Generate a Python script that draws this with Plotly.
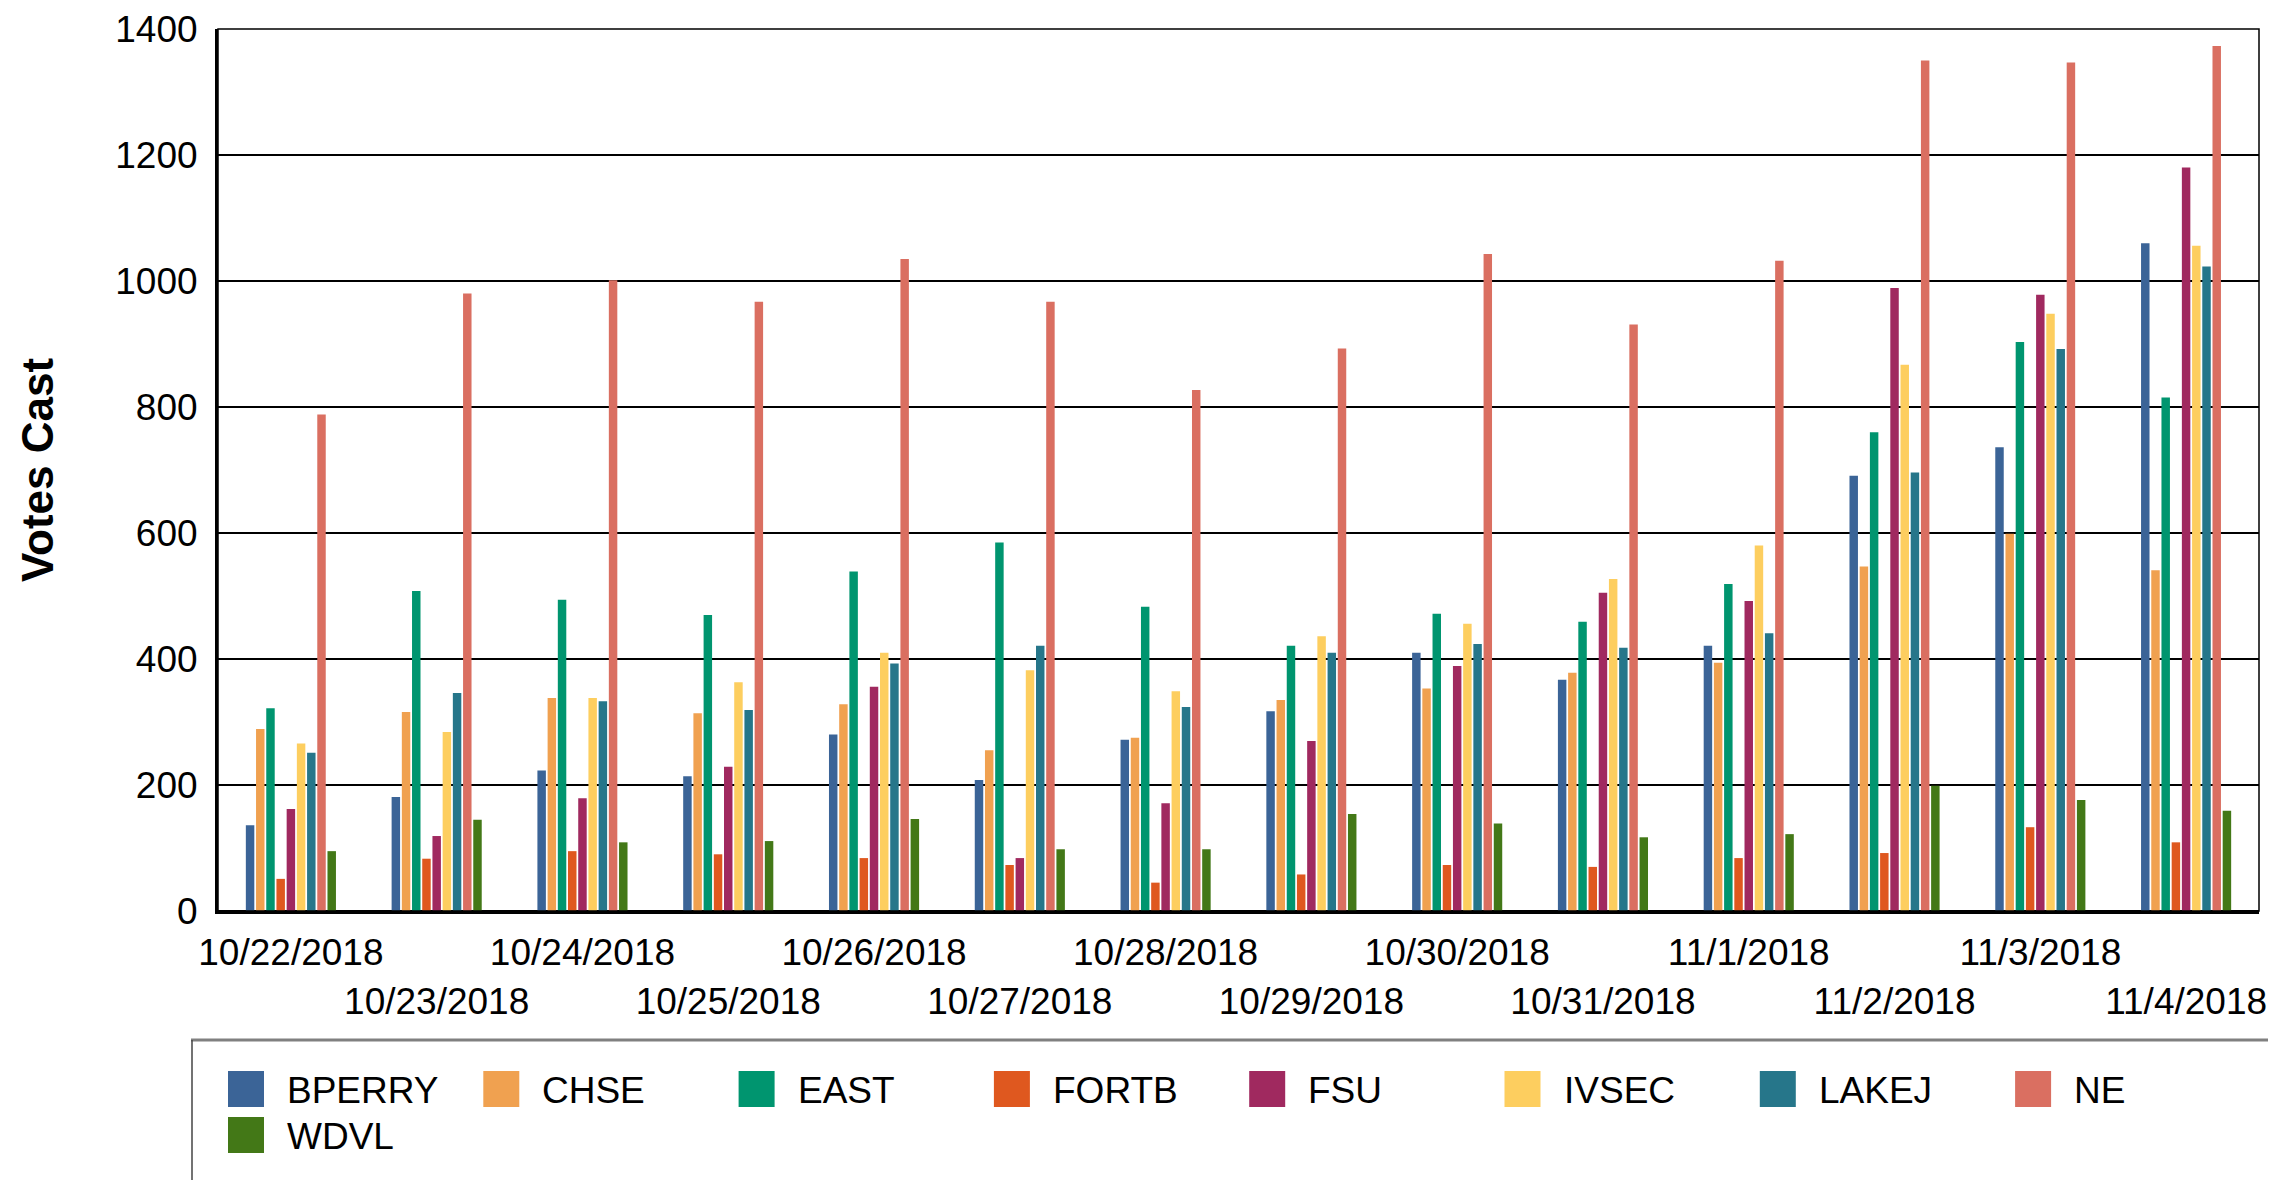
import plotly.graph_objects as go

dates = ["10/22/2018", "10/23/2018", "10/24/2018", "10/25/2018", "10/26/2018",
         "10/27/2018", "10/28/2018", "10/29/2018", "10/30/2018", "10/31/2018",
         "11/1/2018", "11/2/2018", "11/3/2018", "11/4/2018"]

BPERRY = [136, 181, 223, 214, 280, 208, 272, 317, 410, 367, 421, 691, 736, 1060]
CHSE = [289, 316, 338, 314, 328, 255, 275, 335, 353, 378, 394, 547, 599, 541]
EAST = [322, 508, 494, 470, 539, 585, 483, 421, 472, 459, 519, 760, 903, 815]
FORTB = [51, 83, 95, 90, 84, 73, 45, 58, 73, 70, 84, 92, 133, 109]
FSU = [162, 119, 179, 229, 356, 84, 171, 270, 389, 505, 492, 989, 978, 1180]
IVSEC = [266, 284, 338, 363, 410, 382, 349, 436, 456, 527, 580, 867, 948, 1056]
LAKEJ = [251, 346, 333, 319, 393, 421, 324, 410, 424, 418, 441, 696, 892, 1023]
NE = [788, 980, 1001, 967, 1035, 967, 827, 893, 1043, 931, 1032, 1350, 1347, 1373]
WDVL = [95, 145, 109, 111, 146, 98, 98, 154, 139, 117, 122, 199, 176, 159]

series_names = ["BPERRY", "CHSE", "EAST", "FORTB", "FSU", "IVSEC", "LAKEJ", "NE", "WDVL"]
series_values = [BPERRY, CHSE, EAST, FORTB, FSU, IVSEC, LAKEJ, NE, WDVL]
colors = ["#3B6497", "#F0A150", "#00956F", "#DF581F", "#A0295F",
          "#FDCE5F", "#26768A", "#DA6F61", "#437817"]

y_ticks = [0, 200, 400, 600, 800, 1000, 1200, 1400]

W, H = 2276, 1180
OFF = 8  # page body margin
# plot area in page pixels: x 218..2259, y 29..911
L, T = 218 - OFF, 29 - OFF
R = W - (2259 - OFF)
B = H - (911 - OFF)
PW, PH = W - L - R, H - T - B
FONT = "Liberation Sans, Arial, sans-serif"


def px_x(px):
    return (px - OFF - L) / PW


def px_y(py):
    return (H - B - (py - OFF)) / PH


fig = go.Figure()
for name, vals, col in zip(series_names, series_values, colors):
    fig.add_trace(go.Bar(x=dates, y=vals, name=name, marker_color=col,
                         marker_line_width=0, showlegend=False))

ticktext = [d if i % 2 == 0 else "<br>" + d for i, d in enumerate(dates)]

shapes = [
    dict(type="rect", xref="paper", yref="paper", x0=0, x1=1, y0=0, y1=1,
         line=dict(color="black", width=1.5), layer="above"),
    # legend box
    dict(type="line", xref="paper", yref="paper",
         x0=px_x(191), x1=px_x(W + 20), y0=px_y(1040), y1=px_y(1040),
         line=dict(color="#808080", width=3)),
    dict(type="line", xref="paper", yref="paper",
         x0=px_x(192), x1=px_x(192), y0=px_y(1040), y1=px_y(H + 20),
         line=dict(color="#444444", width=1.5)),
]
annotations = []
for i, (name, col) in enumerate(zip(series_names, colors)):
    c, r = i % 8, i // 8
    x0 = 228 + c * 255.3
    y0 = 1071 + r * 46
    shapes.append(dict(type="rect", xref="paper", yref="paper",
                       x0=px_x(x0), x1=px_x(x0 + 36), y0=px_y(y0 + 36), y1=px_y(y0),
                       fillcolor=col, line=dict(width=0)))
    annotations.append(dict(x=px_x(x0 + 57), y=px_y(y0 + 19), xref="paper", yref="paper",
                            text=name, showarrow=False, xanchor="left", yanchor="middle",
                            font=dict(family=FONT, size=37, color="black")))

fig.update_layout(
    width=W, height=H,
    margin=dict(l=L, r=R, t=T, b=B, autoexpand=False),
    paper_bgcolor="white", plot_bgcolor="white",
    barmode="group", bargap=0.37, bargroupgap=0.17,
    font=dict(family=FONT, size=37, color="black"),
    shapes=shapes, annotations=annotations,
    xaxis=dict(type="category", tickvals=dates, ticktext=ticktext, tickangle=0,
               automargin=False, ticklabeloverflow="allow",
               showline=True, linecolor="black", linewidth=3,
               showgrid=False, ticks="", tickfont=dict(size=37),
               ticklabelstandoff=7),
    yaxis=dict(range=[0, 1400], tickvals=y_ticks, showgrid=True, automargin=False,
               ticklabeloverflow="allow",
               gridcolor="black", gridwidth=1.5, showline=True, linecolor="black",
               linewidth=3, zeroline=True, zerolinecolor="black", zerolinewidth=3,
               ticks="", tickfont=dict(size=37), ticklabelstandoff=10,
               title=dict(text="<b>Votes Cast</b>", font=dict(size=44, family=FONT),
                          standoff=48)),
)

fig.write_html("out.html")
